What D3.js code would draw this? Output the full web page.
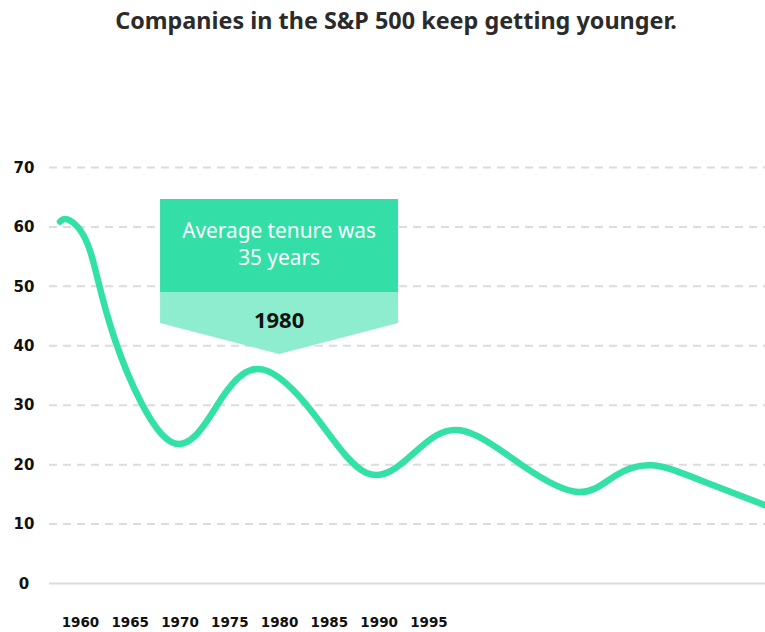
<!DOCTYPE html>
<html>
<head>
<meta charset="utf-8">
<script src="https://cdn.jsdelivr.net/npm/d3@7"></script>
<style>
  html, body { margin: 0; padding: 0; background: #fff; }
  svg { display: block; }
</style>
</head>
<body>
<svg id="chart" width="765" height="632"></svg>
<script>
// ---- data ----
const title = "Companies in the S&P 500 keep getting younger.";
const years = [1958, 1959, 1961, 1963.5, 1969.2, 1974.2, 1978.4, 1983.5, 1988.8, 1993.5, 1998.2, 2004.5, 2010.1, 2013.8, 2017.5, 2022.3, 2028.8];
const tenure = [60.8, 61, 56, 41, 23.7, 31, 35.9, 28.4, 18.5, 21.8, 25.7, 19.7, 15.3, 18.1, 19.8, 17.3, 13.1];
const xTickLabels = [1960, 1965, 1970, 1975, 1980, 1985, 1990, 1995];
const yTickLabels = [0, 10, 20, 30, 40, 50, 60, 70];
const annoYear = 1980;
const annoLines = ["Average tenure was", "35 years"];
const annoLabel = "1980";

(function () {
const svg = d3.select("#chart");

const x = d3.scaleLinear().domain([1958, 2028.8]).range([60, 765]);
const y = d3.scaleLinear().domain([0, 70]).range([583, 167]);

// title
const t = svg.append("text")
  .attr("x", 396).attr("y", 29)
  .attr("text-anchor", "middle")
  .attr("font-family", "'Noto Sans', 'Open Sans', sans-serif")
  .attr("font-weight", 700)
  .attr("font-size", 24)
  .attr("fill", "#2b2b2b")
  .text(title);
const tw = t.node().getComputedTextLength();
t.attr("font-size", 24 * 562 / tw);

// grid + y labels
const yAxis = d3.axisLeft(y).tickValues(yTickLabels).tickSize(0).tickFormat(d3.format("d"));
const gy = svg.append("g").call(yAxis)
  .attr("font-family", "'DejaVu Sans', sans-serif");
gy.select(".domain").remove();
gy.selectAll("text")
  .attr("x", 24).attr("dy", "0.35em")
  .attr("text-anchor", "middle")
  .attr("font-family", "'DejaVu Sans', sans-serif")
  .attr("font-weight", 700)
  .attr("font-size", 15)
  .attr("fill", "#111");
gy.selectAll(".tick").append("line")
  .attr("x1", 49).attr("x2", 765)
  .attr("stroke", "#dcdcdc")
  .attr("stroke-width", 2)
  .attr("stroke-dasharray", d => d === 0 ? null : "8,6");

// x axis labels
const xAxis = d3.axisBottom(x).tickValues(xTickLabels).tickSize(0).tickFormat(d3.format("d"));
const gx = svg.append("g").attr("transform", "translate(0,617)").call(xAxis)
  .attr("font-family", "'DejaVu Sans', sans-serif");
gx.select(".domain").remove();
gx.selectAll("text")
  .attr("y", 0).attr("dy", "0.71em")
  .attr("font-family", "'DejaVu Sans', sans-serif")
  .attr("font-weight", 700)
  .attr("font-size", 13.5)
  .attr("fill", "#111");

// line
const data = years.map((yr, i) => ({ yr, v: tenure[i] }));
const line = d3.line().x(d => x(d.yr)).y(d => y(d.v)).curve(d3.curveNatural);
svg.append("path")
  .datum(data)
  .attr("d", line)
  .attr("fill", "none")
  .attr("stroke", "#33e0a6")
  .attr("stroke-width", 6.5)
  .attr("stroke-linecap", "round")
  .attr("stroke-linejoin", "round");

// annotation
const ax = x(annoYear);
const bw = 238, boxTop = 199, boxMid = 292, boxSide = 323, boxTip = 354;
const g = svg.append("g");
g.append("path")
  .attr("d", `M${ax - bw/2},${boxMid} L${ax + bw/2},${boxMid} L${ax + bw/2},${boxSide} L${ax},${boxTip} L${ax - bw/2},${boxSide} Z`)
  .attr("fill", "#8eedcf");
g.append("rect")
  .attr("x", ax - bw/2).attr("y", boxTop)
  .attr("width", bw).attr("height", boxMid - boxTop)
  .attr("fill", "#33dfa6");
const lt = g.selectAll("text.l").data(annoLines).join("text")
  .attr("class", "l")
  .attr("x", ax).attr("y", (d, i) => 238 + i * 27)
  .attr("text-anchor", "middle")
  .attr("font-family", "'Noto Sans', 'Open Sans', sans-serif")
  .attr("font-weight", 400)
  .attr("font-size", 20)
  .attr("fill", "#fff")
  .text(d => d);
const lw = lt.nodes()[0].getComputedTextLength();
lt.attr("font-size", 20 * 194 / lw);
g.append("text")
  .attr("x", ax).attr("y", 328)
  .attr("text-anchor", "middle")
  .attr("font-family", "'Noto Sans', 'Open Sans', sans-serif")
  .attr("font-weight", 700)
  .attr("font-size", 22)
  .attr("fill", "#111")
  .text(annoLabel);
})();
</script>
</body>
</html>
